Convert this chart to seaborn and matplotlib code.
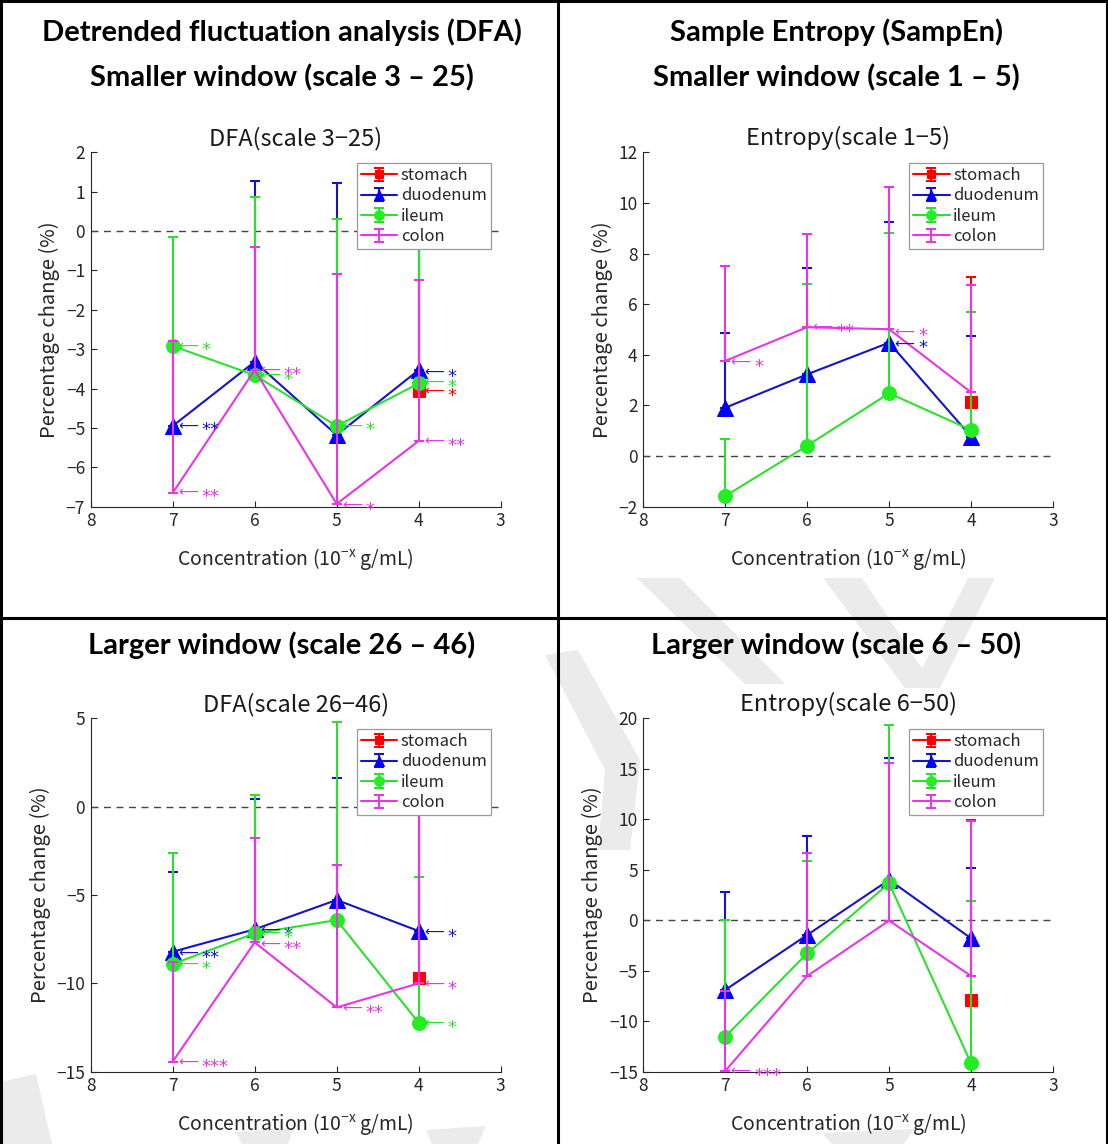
import numpy as np
import pandas as pd
import matplotlib
matplotlib.use("Agg")
import matplotlib.pyplot as plt
import seaborn as sns
from matplotlib.legend_handler import HandlerTuple, HandlerErrorbar
from matplotlib.container import ErrorbarContainer
from matplotlib.patches import Polygon
from matplotlib.lines import Line2D

nan = np.nan

# ---------------- data ----------------
concentration = [7, 6, 5, 4]
organs = ["stomach", "duodenum", "ileum", "colon"]

# DFA, smaller window (scale 3-25): mean and upper error
dfa_small_mean = {
    "stomach":  [nan, nan, nan, -4.05],
    "duodenum": [-4.95, -3.32, -5.18, -3.53],
    "ileum":    [-2.92, -3.66, -4.95, -3.87],
    "colon":    [-6.65, -3.53, -6.93, -5.33],
}
dfa_small_err = {
    "stomach":  [nan, nan, nan, 4.9],
    "duodenum": [1.95, 4.59, 6.41, 4.53],
    "ileum":    [2.78, 4.53, 5.26, 4.47],
    "colon":    [3.85, 3.12, 5.83, 4.09],
}
# Sample entropy, smaller window (scale 1-5)
ent_small_mean = {
    "stomach":  [nan, nan, nan, 2.15],
    "duodenum": [1.91, 3.23, 4.48, 0.77],
    "ileum":    [-1.58, 0.41, 2.48, 1.03],
    "colon":    [3.76, 5.09, 5.01, 2.52],
}
ent_small_err = {
    "stomach":  [nan, nan, nan, 4.91],
    "duodenum": [2.96, 4.19, 4.78, 3.97],
    "ileum":    [2.24, 6.39, 6.35, 4.66],
    "colon":    [3.76, 3.68, 5.63, 4.24],
}
# DFA, larger window (scale 26-46)
dfa_large_mean = {
    "stomach":  [nan, nan, nan, -9.72],
    "duodenum": [-8.21, -6.94, -5.28, -7.04],
    "ileum":    [-8.91, -7.17, -6.42, -12.23],
    "colon":    [-14.43, -7.68, -11.36, -10.0],
}
dfa_large_err = {
    "stomach":  [nan, nan, nan, 10.52],
    "duodenum": [4.53, 7.37, 6.88, 7.94],
    "ileum":    [6.27, 7.83, 11.19, 8.23],
    "colon":    [5.63, 5.89, 8.06, 11.0],
}
# Sample entropy, larger window (scale 6-50)
ent_large_mean = {
    "stomach":  [nan, nan, nan, -7.9],
    "duodenum": [-6.9, -1.46, 4.0, -1.79],
    "ileum":    [-11.53, -3.28, 3.66, -14.17],
    "colon":    [-14.93, -5.52, -0.04, -5.52],
}
ent_large_err = {
    "stomach":  [nan, nan, nan, 17.8],
    "duodenum": [9.73, 9.81, 12.1, 6.93],
    "ileum":    [11.56, 9.18, 15.68, 16.08],
    "colon":    [7.93, 12.15, 15.58, 15.32],
}

# significance marks: (concentration, y, stars, organ)
dfa_small_marks = [(7, -2.92, "*", "ileum"), (7, -4.95, "**", "duodenum"), (7, -6.65, "**", "colon"),
                   (6, -3.66, "*", "ileum"), (6, -3.55, "**", "colon"),
                   (5, -4.95, "*", "ileum"), (5, -6.97, "*", "colon"),
                   (4, -3.6, "*", "duodenum"), (4, -3.85, "*", "ileum"), (4, -4.08, "*", "stomach"),
                   (4, -5.35, "**", "colon")]
ent_small_marks = [(7, 3.69, "*", "colon"), (6, 5.07, "**", "colon"),
                   (5, 4.9, "*", "colon"), (5, 4.43, "*", "duodenum")]
dfa_large_marks = [(7, -8.3, "**", "duodenum"), (7, -8.95, "*", "ileum"), (7, -14.5, "***", "colon"),
                   (6, -7.0, "*", "duodenum"), (6, -7.2, "*", "ileum"), (6, -7.8, "**", "colon"),
                   (5, -11.4, "**", "colon"),
                   (4, -7.1, "*", "duodenum"), (4, -10.05, "*", "colon"), (4, -12.25, "*", "ileum")]
ent_large_marks = [(7, -15.0, "***", "colon")]

panel_titles = ["DFA(scale 3\u221225)", "Entropy(scale 1\u22125)",
                "DFA(scale 26\u221246)", "Entropy(scale 6\u221250)"]
ylims = [(-7, 2), (-2, 12), (-15, 5), (-15, 20)]
ytick_steps = [1, 2, 5, 5]
x_ticks = [8, 7, 6, 5, 4, 3]

# ---------------- style ----------------
sns.set_theme(style="ticks")
plt.rcParams["font.family"] = ["Noto Sans CJK JP", "DejaVu Sans"]
plt.rcParams["mathtext.default"] = "regular"
plt.rcParams["axes.unicode_minus"] = True

colors = {"stomach": "#ff0000", "duodenum": "#1414c8", "ileum": "#2ee02e", "colon": "#e636e6"}
mcolors = {"stomach": "#ff0000", "duodenum": "#0000ff", "ileum": "#22ee22", "colon": "#e636e6"}
markers = {"stomach": "s", "duodenum": "^", "ileum": "o", "colon": ""}
msizes = {"stomach": 8, "duodenum": 11, "ileum": 10, "colon": 0}
zorders = {"stomach": 3, "duodenum": 4, "ileum": 5, "colon": 6}

W, H = 1108, 1144
fig = plt.figure(figsize=(W / 100, H / 100), dpi=100)


def fx(x):
    return x / W


def fy(y):
    return 1 - y / H


# watermark (light gray strokes behind everything)
wm_color = "#ebebeb"
wm_shapes = [
    [(637, 578), (680, 578), (785, 684), (745, 684)],
    [(823, 578), (862, 578), (935, 688), (905, 688)],
    [(968, 578), (995, 578), (940, 688), (912, 688)],
    [(545, 655), (578, 650), (640, 760), (630, 850), (598, 850), (605, 770)],
    [(0, 1082), (36, 1074), (52, 1144), (0, 1144)],
    [(236, 1132), (294, 1128), (288, 1144), (242, 1144)],
    [(426, 1130), (486, 1126), (478, 1144), (432, 1144)],
    [(822, 1133), (915, 1129), (903, 1144), (832, 1144)],
]
for shp in wm_shapes:
    poly = Polygon([(fx(a), fy(b)) for a, b in shp], closed=True, transform=fig.transFigure,
                   facecolor=wm_color, edgecolor="none", zorder=-5)
    fig.add_artist(poly)

# table lines
line_kw = dict(color="black", lw=2.2, transform=fig.transFigure, zorder=10)
fig.add_artist(Line2D([fx(1), fx(1)], [fy(0), fy(H)], **line_kw))
fig.add_artist(Line2D([fx(W - 1.5), fx(W - 1.5)], [fy(0), fy(H)], **line_kw))
fig.add_artist(Line2D([fx(0), fx(W)], [fy(1), fy(1)], **line_kw))
fig.add_artist(Line2D([fx(558), fx(558)], [fy(0), fy(H)], **line_kw))
fig.add_artist(Line2D([fx(0), fx(W)], [fy(618), fy(618)], **line_kw))

# headings
head_kw = dict(fontsize=21, fontweight="bold", family=["Lato", "DejaVu Sans"],
               ha="center", va="center", color="black")
fig.text(fx(282), fy(32), "Detrended fluctuation analysis (DFA)", **head_kw)
fig.text(fx(282), fy(78), "Smaller window (scale 3 \u2013 25)", **head_kw)
fig.text(fx(836), fy(32), "Sample Entropy (SampEn)", **head_kw)
fig.text(fx(836), fy(78), "Smaller window (scale 1 \u2013 5)", **head_kw)
fig.text(fx(282), fy(645), "Larger window (scale 26 \u2013 46)", **head_kw)
fig.text(fx(836), fy(645), "Larger window (scale 6 \u2013 50)", **head_kw)

axes_px = [(90.7, 152.3, 500.7, 506.7), (643.3, 152.3, 1053, 506.7),
           (90.7, 718.3, 500.7, 1071.7), (643.3, 718.3, 1053, 1071.7)]
panels = [(dfa_small_mean, dfa_small_err, dfa_small_marks),
          (ent_small_mean, ent_small_err, ent_small_marks),
          (dfa_large_mean, dfa_large_err, dfa_large_marks),
          (ent_large_mean, ent_large_err, ent_large_marks)]

axis_color = "#262626"
for i, ((means, errs, marks), (x0, y0, x1, y1)) in enumerate(zip(panels, axes_px)):
    ax = fig.add_axes([fx(x0), fy(y1), (x1 - x0) / W, (y1 - y0) / H])
    ax.set_facecolor("none")
    handles = []
    for org in organs:
        df = pd.DataFrame({"conc": concentration, "val": means[org]})
        sns.lineplot(data=df, x="conc", y="val", ax=ax, color=colors[org],
                     marker=markers[org] if markers[org] else None,
                     markersize=msizes[org], markerfacecolor=mcolors[org],
                     markeredgecolor=mcolors[org], lw=1.5, legend=False, sort=False)
        ln = ax.lines[-1]
        ln.set_zorder(zorders[org] + 0.1)
        m = np.array(means[org], dtype=float)
        e = np.array(errs[org], dtype=float)
        ok = ~np.isnan(m)
        eb = ax.errorbar(np.array(concentration)[ok], m[ok],
                         yerr=[np.zeros(ok.sum()), e[ok]], fmt="none",
                         ecolor=colors[org], elinewidth=1.5, capsize=3.6, capthick=1.5,
                         zorder=zorders[org])
        handles.append((eb, ln))
    ax.axhline(0, color="#444444", lw=1.0, ls=(0, (5, 4)), zorder=1)
    for (c, yv, stars, org) in marks:
        ax.annotate("\u27f5", xy=(c, yv), xytext=(4, 0), textcoords="offset points",
                    ha="left", va="center", fontsize=10, color=colors[org], zorder=8,
                    family=["DejaVu Sans"])
        ax.annotate(stars, xy=(c, yv), xytext=(21, -3.2), textcoords="offset points",
                    ha="left", va="center", fontsize=13, color=colors[org], zorder=8,
                    family=["DejaVu Sans"])
    lo, hi = ylims[i]
    ax.set_xlim(8, 3)
    ax.set_ylim(lo, hi)
    ax.set_xticks(x_ticks)
    ax.set_yticks(np.arange(lo, hi + 0.001, ytick_steps[i]))
    ax.set_title(panel_titles[i], fontsize=17, pad=5, color="#1a1a1a")
    ax.set_xlabel("Concentration (10$^{-x}$ g/mL)", fontsize=14, labelpad=11, color="#262626")
    ax.set_ylabel("Percentage change (%)", fontsize=14.5, labelpad=4, color="#262626")
    for s in ["top", "right"]:
        ax.spines[s].set_visible(False)
    for s in ["left", "bottom"]:
        ax.spines[s].set_color(axis_color)
        ax.spines[s].set_linewidth(0.8)
    ax.tick_params(direction="in", length=4, width=0.8, colors=axis_color, labelsize=12.5, pad=4)
    leg = ax.legend(handles, organs, loc="upper right", bbox_to_anchor=(0.976, 0.970),
                    handler_map={tuple: HandlerTuple(ndivide=1, pad=0),
                                 ErrorbarContainer: HandlerErrorbar(xerr_size=0.5, yerr_size=0.4)},
                    fontsize=12, frameon=True, fancybox=False, edgecolor="#9a9a9a",
                    framealpha=1, borderpad=0.25, labelspacing=0.2, handlelength=2.2,
                    handletextpad=0.2, borderaxespad=0, markerscale=0.7)
    leg.get_frame().set_linewidth(0.9)
    leg.set_zorder(20)

fig.savefig("out.png", dpi=100)
